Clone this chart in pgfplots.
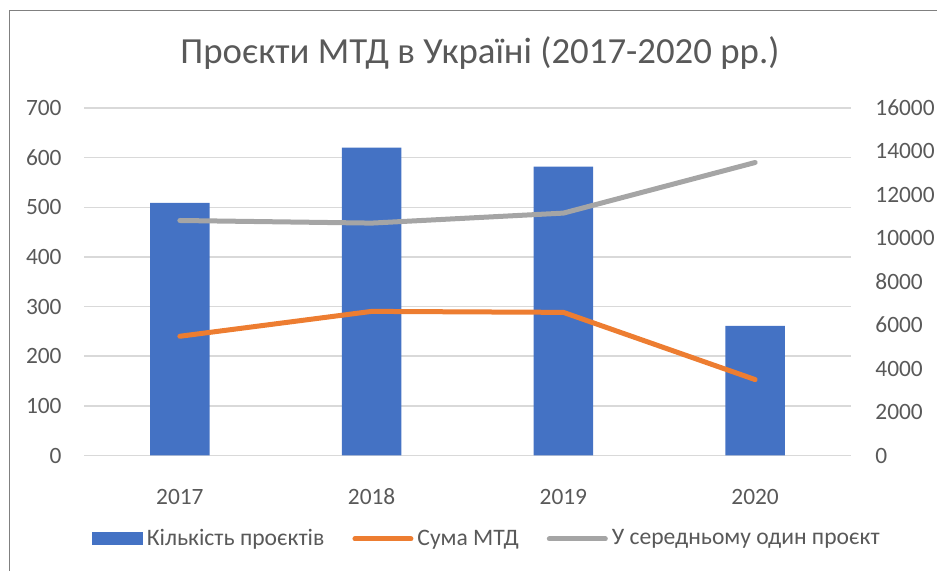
\documentclass[border=0pt]{standalone}
\usepackage{fontspec}
\setmainfont{Carlito}
\usepackage{pgfplots}
\pgfplotsset{compat=1.18}

\definecolor{barblue}{HTML}{4472C4}
\definecolor{lineorange}{HTML}{ED7D31}
\definecolor{linegray}{HTML}{A5A5A5}
\definecolor{txtgray}{HTML}{595959}
\definecolor{gridgray}{HTML}{D9D9D9}

% both axes share one plot area (1px of the reference = 0.5pt)
\pgfplotsset{
  common/.style={
    scale only axis,
    width=383.5pt, height=173.75pt,
    at={(42pt,57.75pt)}, anchor=south west,
    xmin=-0.5, xmax=3.5,
    tick style={draw=none},
    axis line style={draw=none},
    scaled y ticks=false,
    ticklabel style={font=\fontsize{11.7}{13}\selectfont, text=txtgray, inner sep=0pt},
    /pgf/number format/assume math mode=true,
    /pgf/number format/1000 sep={},
  }
}

\begin{document}
\begin{tikzpicture}
\useasboundingbox (0,0) rectangle (468.5pt,285.5pt);

% bars: number of projects (left axis)
\begin{axis}[common,
  ybar, bar width=0.31,
  ymin=0, ymax=700, ytick={0,100,...,700},
  ymajorgrids, grid style={gridgray, line width=0.75pt},
  xtick={0,1,2,3}, xticklabels={2017,2018,2019,2020},
  yticklabel style={xshift=-11pt},
  xticklabel style={anchor=base, yshift=-20pt},
]
\addplot[fill=barblue, draw=none] coordinates {(0,509) (1,620) (2,582) (3,261)};
\end{axis}

% lines: total sum and average per project (right axis)
\begin{axis}[common,
  axis y line*=right,
  hide x axis,
  ymin=0, ymax=16000, ytick={0,2000,...,16000},
  yticklabel style={xshift=12pt},
  legend style={at={(0.5265,-0.24)}, anchor=center, draw=none, fill=none,
    legend columns=3, font=\fontsize{11.8}{13}\selectfont, text=txtgray,
    /tikz/every even column/.append style={column sep=12pt}},
  legend image code/.code={\draw[#1] (0pt,0pt) -- (28pt,0pt);},
]
\addlegendimage{legend image code/.code={\fill[barblue] (0pt,-3pt) rectangle (25pt,3pt);}}
\addplot[lineorange, line width=2.5pt, line cap=round, line join=round]
  coordinates {(0,5490) (1,6635) (2,6590) (3,3495)};
\addplot[linegray, line width=2.5pt, line cap=round, line join=round]
  coordinates {(0,10820) (1,10700) (2,11160) (3,13490)};
\legend{Кількість проєктів, Сума МТД, У середньому один проєкт}
\end{axis}

\node[font=\fontsize{18.4}{21}\selectfont, text=txtgray] at (240pt,259pt)
  {Проєкти МТД в Україні (2017-2020 рр.)};

\draw[gray, line width=0.75pt] (4.65pt,0) -- (4.65pt,280.15pt) -- (470pt,280.15pt);
\end{tikzpicture}
\end{document}
